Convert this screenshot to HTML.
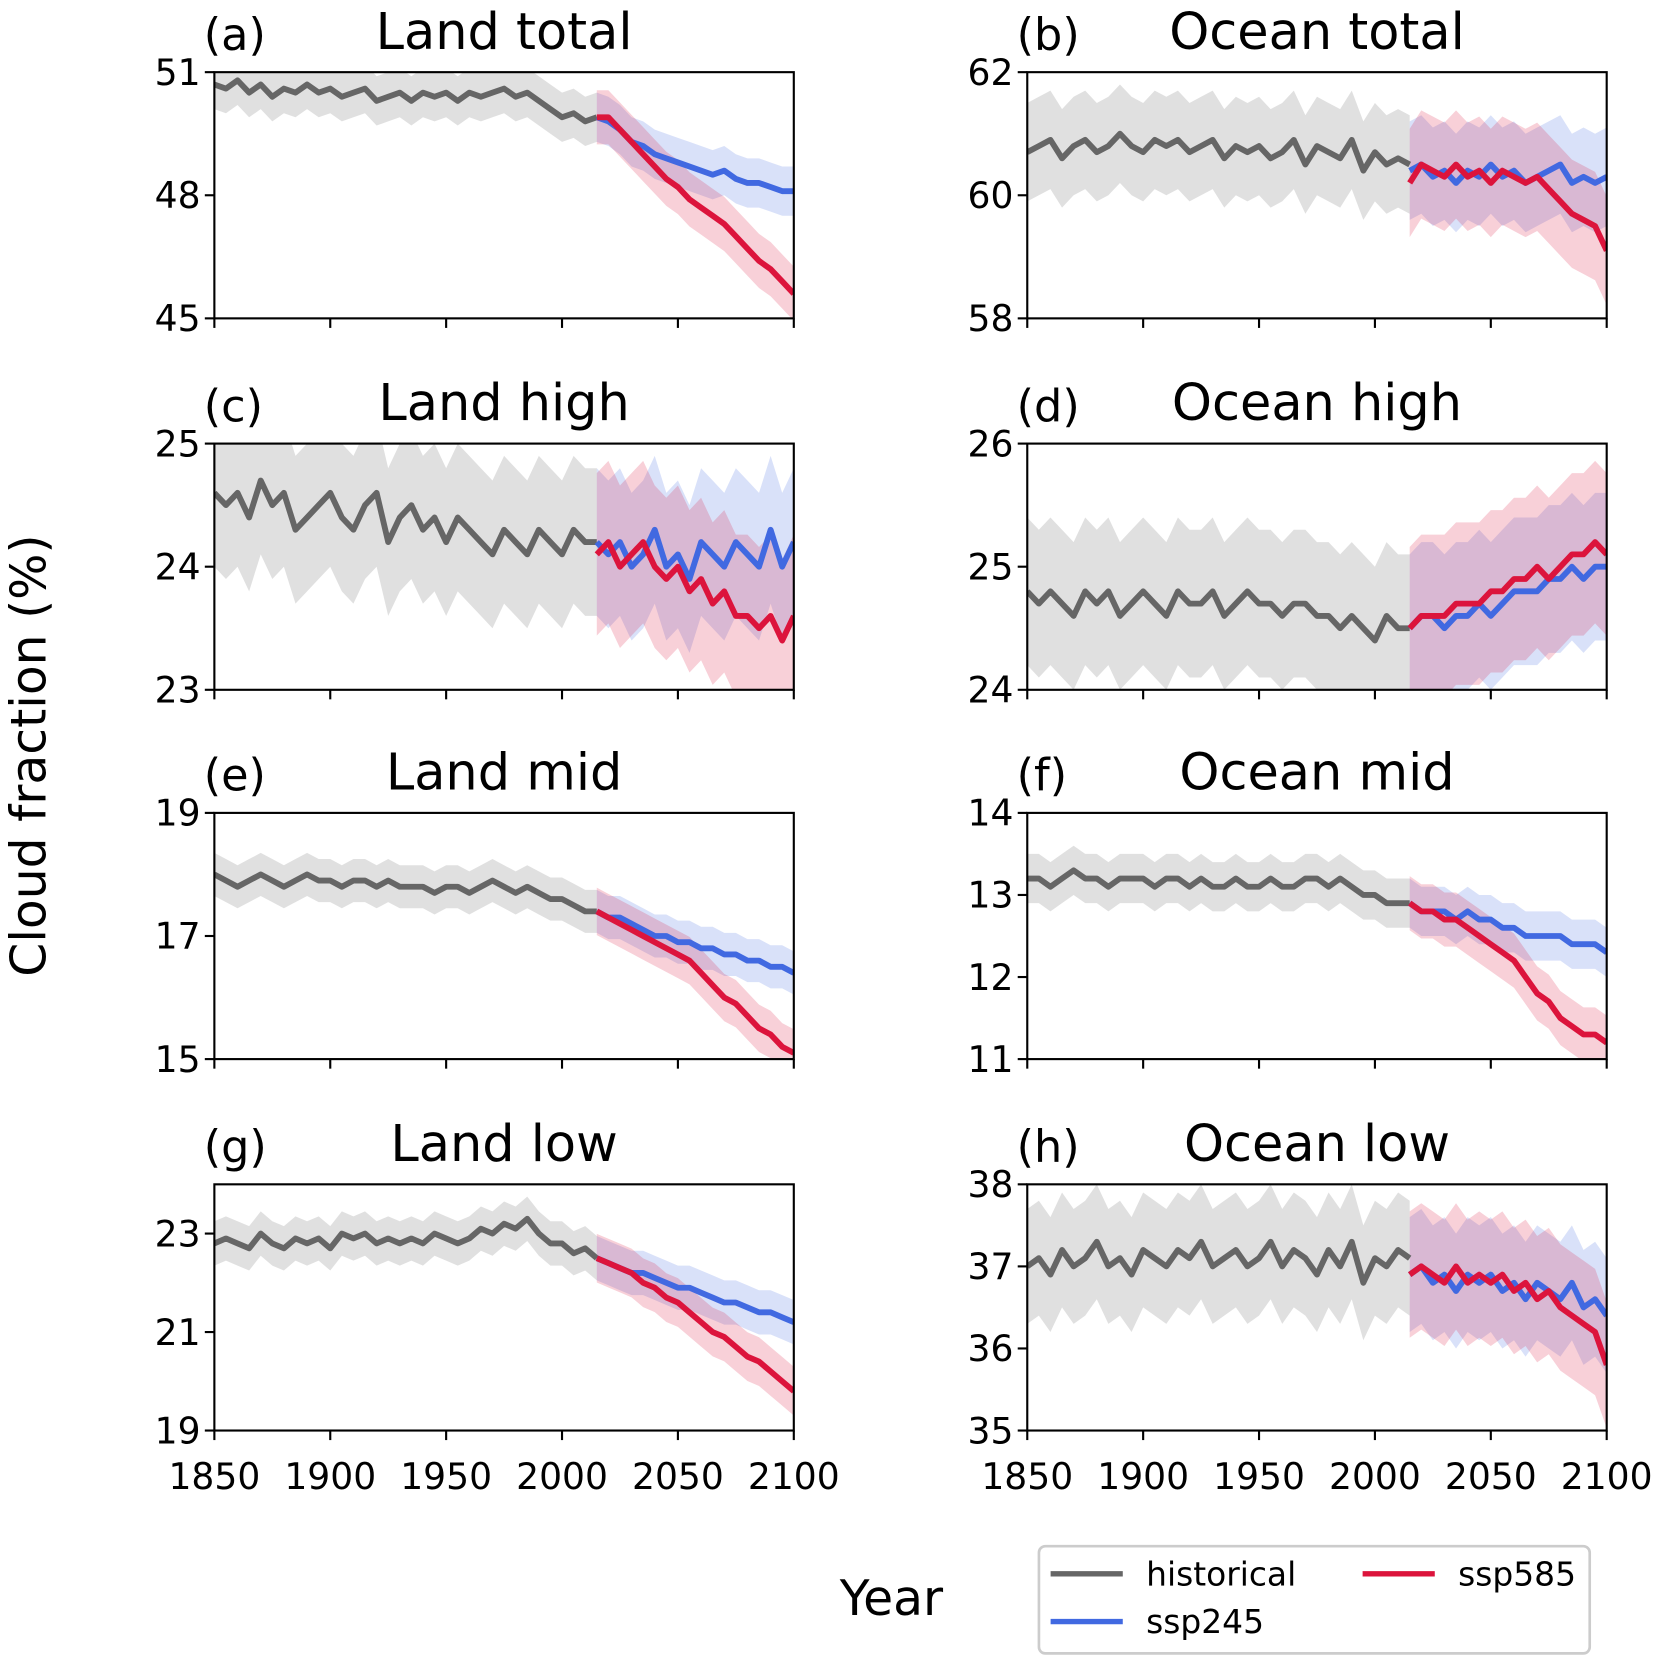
<!DOCTYPE html>
<html><head><meta charset="utf-8"><style>
html,body{margin:0;padding:0;background:#fff;}
svg{display:block;font-family:"DejaVu Sans","Liberation Sans",sans-serif;}
</style></head><body>
<svg id="fig" width="1664" height="1664" viewBox="0 0 1568 1568" xmlns="http://www.w3.org/2000/svg">
<text x="0" y="0" transform="translate(43,712) rotate(-90)" text-anchor="middle" font-size="46">Cloud fraction (%)</text>
<text x="840" y="1522" text-anchor="middle" font-size="46">Year</text>
<g>
<rect x="979" y="1457" width="519" height="101" rx="6" fill="#fff" stroke="#ccc" stroke-width="2.5"/>
<line x1="990" y1="1483" x2="1058" y2="1483" stroke="#666" stroke-width="5"/>
<text x="1080" y="1494" font-size="31">historical</text>
<line x1="990" y1="1528" x2="1058" y2="1528" stroke="#4169e1" stroke-width="5"/>
<text x="1080" y="1539" font-size="31">ssp245</text>
<line x1="1284" y1="1483" x2="1352" y2="1483" stroke="#dc143c" stroke-width="5"/>
<text x="1374" y="1494" font-size="31">ssp585</text>
</g>
</svg>
<script>
const histA=[50.7,50.6,50.8,50.5,50.7,50.4,50.6,50.5,50.7,50.5,50.6,50.4,50.5,50.6,50.3,50.4,50.5,50.3,50.5,50.4,50.5,50.3,50.5,50.4,50.5,50.6,50.4,50.5,50.3,50.1,49.9,50.0,49.8,49.9];
const s245A=[49.9,49.8,49.6,49.3,49.2,49.0,48.9,48.8,48.7,48.6,48.5,48.6,48.4,48.3,48.3,48.2,48.1,48.1];
const s585A=[49.9,49.9,49.6,49.3,49.0,48.7,48.4,48.2,47.9,47.7,47.5,47.3,47.0,46.7,46.4,46.2,45.9,45.6];
const histB=[60.7,60.8,60.9,60.6,60.8,60.9,60.7,60.8,61.0,60.8,60.7,60.9,60.8,60.9,60.7,60.8,60.9,60.6,60.8,60.7,60.8,60.6,60.7,60.9,60.5,60.8,60.7,60.6,60.9,60.4,60.7,60.5,60.6,60.5];
const s245B=[60.4,60.5,60.3,60.4,60.2,60.4,60.3,60.5,60.3,60.4,60.2,60.3,60.4,60.5,60.2,60.3,60.2,60.3];
const s585B=[60.2,60.5,60.4,60.3,60.5,60.3,60.4,60.2,60.4,60.3,60.2,60.3,60.1,59.9,59.7,59.6,59.5,59.1];
const histC=[24.6,24.5,24.6,24.4,24.7,24.5,24.6,24.3,24.4,24.5,24.6,24.4,24.3,24.5,24.6,24.2,24.4,24.5,24.3,24.4,24.2,24.4,24.3,24.2,24.1,24.3,24.2,24.1,24.3,24.2,24.1,24.3,24.2,24.2];
const s245C=[24.2,24.1,24.2,24.0,24.1,24.3,24.0,24.1,23.9,24.2,24.1,24.0,24.2,24.1,24.0,24.3,24.0,24.2];
const s585C=[24.1,24.2,24.0,24.1,24.2,24.0,23.9,24.0,23.8,23.9,23.7,23.8,23.6,23.6,23.5,23.6,23.4,23.6];
const histD=[24.8,24.7,24.8,24.7,24.6,24.8,24.7,24.8,24.6,24.7,24.8,24.7,24.6,24.8,24.7,24.7,24.8,24.6,24.7,24.8,24.7,24.7,24.6,24.7,24.7,24.6,24.6,24.5,24.6,24.5,24.4,24.6,24.5,24.5];
const s245D=[24.5,24.6,24.6,24.5,24.6,24.6,24.7,24.6,24.7,24.8,24.8,24.8,24.9,24.9,25.0,24.9,25.0,25.0];
const s585D=[24.5,24.6,24.6,24.6,24.7,24.7,24.7,24.8,24.8,24.9,24.9,25.0,24.9,25.0,25.1,25.1,25.2,25.1];
const histE=[18.0,17.9,17.8,17.9,18.0,17.9,17.8,17.9,18.0,17.9,17.9,17.8,17.9,17.9,17.8,17.9,17.8,17.8,17.8,17.7,17.8,17.8,17.7,17.8,17.9,17.8,17.7,17.8,17.7,17.6,17.6,17.5,17.4,17.4];
const s245E=[17.4,17.3,17.3,17.2,17.1,17.0,17.0,16.9,16.9,16.8,16.8,16.7,16.7,16.6,16.6,16.5,16.5,16.4];
const s585E=[17.4,17.3,17.2,17.1,17.0,16.9,16.8,16.7,16.6,16.4,16.2,16.0,15.9,15.7,15.5,15.4,15.2,15.1];
const histF=[13.2,13.2,13.1,13.2,13.3,13.2,13.2,13.1,13.2,13.2,13.2,13.1,13.2,13.2,13.1,13.2,13.1,13.1,13.2,13.1,13.1,13.2,13.1,13.1,13.2,13.2,13.1,13.2,13.1,13.0,13.0,12.9,12.9,12.9];
const s245F=[12.9,12.8,12.8,12.8,12.7,12.8,12.7,12.7,12.6,12.6,12.5,12.5,12.5,12.5,12.4,12.4,12.4,12.3];
const s585F=[12.9,12.8,12.8,12.7,12.7,12.6,12.5,12.4,12.3,12.2,12.0,11.8,11.7,11.5,11.4,11.3,11.3,11.2];
const histG=[22.8,22.9,22.8,22.7,23.0,22.8,22.7,22.9,22.8,22.9,22.7,23.0,22.9,23.0,22.8,22.9,22.8,22.9,22.8,23.0,22.9,22.8,22.9,23.1,23.0,23.2,23.1,23.3,23.0,22.8,22.8,22.6,22.7,22.5];
const s245G=[22.5,22.4,22.3,22.2,22.2,22.1,22.0,21.9,21.9,21.8,21.7,21.6,21.6,21.5,21.4,21.4,21.3,21.2];
const s585G=[22.5,22.4,22.3,22.2,22.0,21.9,21.7,21.6,21.4,21.2,21.0,20.9,20.7,20.5,20.4,20.2,20.0,19.8];
const histH=[37.0,37.1,36.9,37.2,37.0,37.1,37.3,37.0,37.1,36.9,37.2,37.1,37.0,37.2,37.1,37.3,37.0,37.1,37.2,37.0,37.1,37.3,37.0,37.2,37.1,36.9,37.2,37.0,37.3,36.8,37.1,37.0,37.2,37.1];
const s245H=[36.9,37.0,36.8,36.9,36.7,36.9,36.8,36.9,36.7,36.8,36.6,36.8,36.7,36.6,36.8,36.5,36.6,36.4];
const s585H=[36.9,37.0,36.9,36.8,37.0,36.8,36.9,36.8,36.9,36.7,36.8,36.6,36.7,36.5,36.4,36.3,36.2,35.8];
const spreads=[0.6,0.8,0.6,0.6,0.35,0.3,0.45,0.7];
const letters=['(a)','(b)','(c)','(d)','(e)','(f)','(g)','(h)'];
const titles=['Land total','Ocean total','Land high','Ocean high','Land mid','Ocean mid','Land low','Ocean low'];
const yMins=[45,58,23,24,15,11,19,35];
const yMaxs=[51,62,25,26,19,14,24,38];
const yTicks=[[45,48,51],[58,60,62],[23,24,25],[24,25,26],[15,17,19],[11,12,13,14],[19,21,23],[35,36,37,38]];
const xTicks=[1850,1900,1950,2000,2050,2100];
const histAll=[histA,histB,histC,histD,histE,histF,histG,histH];
const s245All=[s245A,s245B,s245C,s245D,s245E,s245F,s245G,s245H];
const s585All=[s585A,s585B,s585C,s585D,s585E,s585F,s585G,s585H];

const NS='http://www.w3.org/2000/svg';
const fig=document.getElementById('fig');
function mk(tag,attrs,parent){const e=document.createElementNS(NS,tag);for(const k in attrs)e.setAttribute(k,attrs[k]);parent.appendChild(e);return e;}
const colL=[202,968],W=546,tops=[68,418,766,1116],H=232;
for(let p=0;p<8;p++){
  const x0=colL[p%2],y0=tops[Math.floor(p/2)];
  const g=mk('g',{},fig);
  
  
  const xs=y=>x0+(y-1850)/250*W;
  const ys=v=>y0+H-(v-yMins[p])/(yMaxs[p]-yMins[p])*H;
  const cp=mk('clipPath',{id:'c'+p},g);mk('rect',{x:x0,y:y0,width:W,height:H},cp);
  const hy=histAll[p].map((v,i)=>Math.min(1850+5*i,2015));
  const sy=s245All[p].map((v,i)=>2015+5*i);
  const sp=spreads[p];
  function band(years,vals,fill,op,k){
    let d='';years.forEach((y,i)=>{d+=(i?'L':'M')+xs(y)+','+ys(vals[i]+sp*k);});
    for(let i=years.length-1;i>=0;i--)d+='L'+xs(years[i])+','+ys(vals[i]-sp*k);
    return mk('path',{d:d+'Z',fill:fill,'fill-opacity':op,'clip-path':'url(#c'+p+')'},g);}
  function line(years,vals,col){
    let d='';years.forEach((y,i)=>{d+=(i?'L':'M')+xs(y)+','+ys(vals[i]);});
    return mk('path',{d:d,fill:'none',stroke:col,'stroke-width':5.5,'stroke-linejoin':'round','clip-path':'url(#c'+p+')'},g);}
  const b1=band(hy,histAll[p],'#d3d3d3',0.7,1);
  
  
  const b2=band(sy,s245All[p],'#4169e1',0.2,1);
  
  
  const b3=band(sy,s585All[p],'#dc143c',0.2,1.1);
  
  
  const l1=line(hy,histAll[p],'#666666');
  
  
  const l2=line(sy,s245All[p],'#4169e1');
  
  
  const l3=line(sy,s585All[p],'#dc143c');
  
  
  mk('rect',{x:x0,y:y0,width:W,height:H,fill:'none',stroke:'#000','stroke-width':2},g);
  yTicks[p].forEach(t=>{const yy=ys(t);
    mk('line',{x1:x0-9,y1:yy,x2:x0,y2:yy,stroke:'#000','stroke-width':2},g);
    const tx=mk('text',{x:x0-13,y:yy+12,'text-anchor':'end','font-size':34},g);tx.textContent=t;
    
    });
  xTicks.forEach(t=>{const xx=xs(t);
    mk('line',{x1:xx,y1:y0+H,x2:xx,y2:y0+H+9,stroke:'#000','stroke-width':2},g);
    if(p>=6){const tx=mk('text',{x:xx,y:y0+H+55,'text-anchor':'middle','font-size':34},g);tx.textContent=t;
      
      }});
  const lt=mk('text',{x:x0-10,y:y0-21,'font-size':42},g);lt.textContent=letters[p];
  
  
  const tt=mk('text',{x:x0+W/2,y:y0-22,'text-anchor':'middle','font-size':48},g);tt.textContent=titles[p];
  
  
}
</script>
</body></html>
